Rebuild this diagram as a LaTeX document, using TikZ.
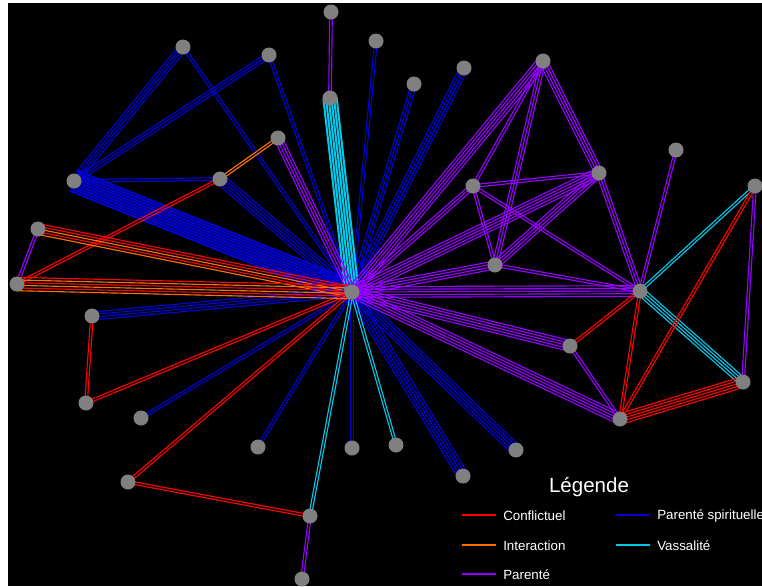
\documentclass[tikz,border=0pt]{standalone}
\usepackage{fontspec}
\setmainfont{Liberation Sans}
\usepackage{tikz}
\usetikzlibrary{calc}
\definecolor{rconf}{RGB}{255,0,0}
\definecolor{rinter}{RGB}{255,112,0}
\definecolor{rparent}{RGB}{150,0,255}
\definecolor{rspirit}{RGB}{0,0,215}
\definecolor{rvassal}{RGB}{0,200,235}
\definecolor{pgris}{RGB}{128,128,128}
\pgfdeclarelayer{fond}
\pgfdeclarelayer{liens}
\pgfsetlayers{fond,liens,main}
\tikzset{
  pers/.style={circle, fill=pgris, minimum size=11.25pt, inner sep=0pt},
  conf/.style={draw=rconf, line width=0.85pt},
  inter/.style={draw=rinter, line width=0.85pt},
  parent/.style={draw=rparent, line width=0.85pt},
  spirit/.style={draw=rspirit, line width=0.85pt},
  vassal/.style={draw=rvassal, line width=0.85pt},
  dense/.style={line width=1.5pt},
  legline/.style={line width=2.2pt},
  legtext/.style={text=white, anchor=west, inner sep=0pt,
    font=\fontsize{10}{12}\selectfont}
}
% n parallel lines of one kind between two persons
\newcommand{\lien}[4]{%
  \foreach \k in {1,...,#4}{
    \pgfmathsetmacro{\off}{(\k-(#4+1)/2)*2}
    \draw[#3] ($(#1)!\off pt!90:(#2)$) -- ($(#2)!\off pt!-90:(#1)$);
  }}
% n parallel lines, one style per line
\newcommand{\liens}[4]{%
  \foreach \s [count=\k] in {#4}{
    \pgfmathsetmacro{\off}{(\k-(#3+1)/2)*2}
    \draw[\s] ($(#1)!\off pt!90:(#2)$) -- ($(#2)!\off pt!-90:(#1)$);
  }}

\begin{document}
\begin{tikzpicture}[x=0.75pt, y=-0.75pt]
  \useasboundingbox (0,0) rectangle (762,586);
  \begin{pgfonlayer}{fond}
    \fill[black] (8,3) rectangle (762,586);
  \end{pgfonlayer}

  % persons
  \node[pers] (ego) at (352,292) {};
  \node[pers] (p1)  at (331,12)  {};
  \node[pers] (p2)  at (376,41)  {};
  \node[pers] (p3)  at (183,47)  {};
  \node[pers] (p4)  at (269,55)  {};
  \node[pers] (p5)  at (543,61)  {};
  \node[pers] (p6)  at (464,68)  {};
  \node[pers] (p7)  at (414,84)  {};
  \node[pers] (p8)  at (330,98)  {};
  \node[pers] (p9)  at (278,138) {};
  \node[pers] (p10) at (676,150) {};
  \node[pers] (p11) at (74,181)  {};
  \node[pers] (p12) at (220,179) {};
  \node[pers] (p13) at (599,173) {};
  \node[pers] (p14) at (473,186) {};
  \node[pers] (p15) at (755,186) {};
  \node[pers] (p16) at (38,229)  {};
  \node[pers] (p17) at (495,265) {};
  \node[pers] (p18) at (17,284)  {};
  \node[pers] (p19) at (640,291) {};
  \node[pers] (p20) at (92,316)  {};
  \node[pers] (p21) at (570,346) {};
  \node[pers] (p22) at (743,382) {};
  \node[pers] (p23) at (86,403)  {};
  \node[pers] (p24) at (141,418) {};
  \node[pers] (p25) at (620,419) {};
  \node[pers] (p26) at (516,450) {};
  \node[pers] (p27) at (258,447) {};
  \node[pers] (p28) at (352,448) {};
  \node[pers] (p29) at (396,445) {};
  \node[pers] (p30) at (463,476) {};
  \node[pers] (p31) at (128,482) {};
  \node[pers] (p32) at (310,516) {};
  \node[pers] (p33) at (302,579) {};

  \begin{pgfonlayer}{liens}
    % parente spirituelle
    \lien{ego}{p11}{spirit,dense}{9}
    \lien{ego}{p12}{spirit}{5}
    \lien{ego}{p2}{spirit}{2}
    \lien{ego}{p3}{spirit}{2}
    \lien{ego}{p4}{spirit}{2}
    \lien{ego}{p6}{spirit}{4}
    \lien{ego}{p7}{spirit}{3}
    \lien{ego}{p20}{spirit}{4}
    \lien{ego}{p24}{spirit}{2}
    \lien{ego}{p26}{spirit}{5}
    \lien{ego}{p27}{spirit}{2}
    \lien{ego}{p28}{spirit}{2}
    \lien{ego}{p30}{spirit}{5}
    \lien{p11}{p3}{spirit}{4}
    \lien{p11}{p4}{spirit}{3}
    \lien{p11}{p12}{spirit}{2}
    % vassalite
    \lien{ego}{p8}{vassal,dense}{6}
    \lien{ego}{p29}{vassal}{2}
    \lien{ego}{p32}{vassal}{2}
    \lien{p19}{p15}{vassal}{2}
    \lien{p19}{p22}{vassal}{4}
    % parente
    \lien{p1}{p8}{parent}{2}
    \lien{ego}{p9}{parent}{4}
    \lien{ego}{p5}{parent}{5}
    \lien{ego}{p14}{parent}{3}
    \lien{ego}{p13}{parent}{5}
    \lien{ego}{p17}{parent}{4}
    \lien{ego}{p19}{parent}{5}
    \lien{ego}{p21}{parent}{5}
    \lien{ego}{p25}{parent}{5}
    \lien{p5}{p14}{parent}{2}
    \lien{p5}{p17}{parent}{3}
    \lien{p5}{p13}{parent}{4}
    \lien{p13}{p19}{parent}{3}
    \lien{p14}{p13}{parent}{2}
    \lien{p14}{p17}{parent}{2}
    \lien{p14}{p19}{parent}{2}
    \lien{p13}{p17}{parent}{4}
    \lien{p17}{p19}{parent}{2}
    \lien{p10}{p19}{parent}{2}
    \lien{p15}{p22}{parent}{2}
    \lien{p16}{p18}{parent}{2}
    \lien{p21}{p25}{parent}{2}
    \lien{p32}{p33}{parent}{2}
    % conflictuel et interaction
    \lien{p12}{p18}{conf}{2}
    \lien{ego}{p23}{conf}{2}
    \lien{ego}{p31}{conf}{2}
    \lien{p20}{p23}{conf}{2}
    \lien{p31}{p32}{conf}{2}
    \lien{p19}{p21}{conf}{2}
    \lien{p19}{p25}{conf}{2}
    \lien{p15}{p25}{conf}{2}
    \lien{p22}{p25}{conf}{5}
    \lien{p9}{p12}{inter}{2}
    \liens{ego}{p16}{5}{conf,conf,inter,conf,inter}
    \liens{ego}{p18}{6}{conf,inter,conf,inter,conf,inter}
  \end{pgfonlayer}

  % legende
  \node[text=white, font=\fontsize{15.4}{18}\selectfont] (titre) at (589,487) {Légende};
  \coordinate (lc1) at (462,515); \coordinate (lc2) at (496,515);
  \coordinate (li1) at (462,545); \coordinate (li2) at (496,545);
  \coordinate (lp1) at (462,574); \coordinate (lp2) at (496,574);
  \coordinate (ls1) at (616,515); \coordinate (ls2) at (650,515);
  \coordinate (lv1) at (616,545); \coordinate (lv2) at (650,545);
  \draw[legline, rconf]   (lc1) -- (lc2);
  \draw[legline, rinter]  (li1) -- (li2);
  \draw[legline, rparent] (lp1) -- (lp2);
  \draw[legline, rspirit] (ls1) -- (ls2);
  \draw[legline, rvassal] (lv1) -- (lv2);
  \node[legtext] (tc) at (503,516) {Conflictuel};
  \node[legtext] (ti) at (503,546) {Interaction};
  \node[legtext] (tp) at (503,575) {Parenté};
  \node[legtext] (ts) at (657,516) {Parenté spirituelle};
  \node[legtext] (tv) at (657,546) {Vassalité};
\end{tikzpicture}
\end{document}
